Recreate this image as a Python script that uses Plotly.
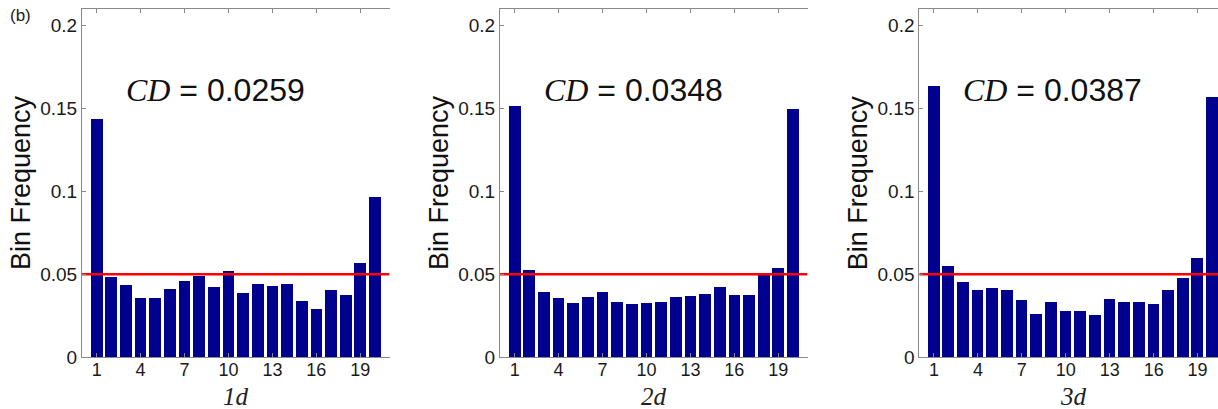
import plotly.graph_objects as go

bins = list(range(1, 21))
freq_1d = [0.1436, 0.0486, 0.0440, 0.0361, 0.0361, 0.0414, 0.0462, 0.0494, 0.0426, 0.0522,
           0.0392, 0.0444, 0.0432, 0.0444, 0.0343, 0.0293, 0.0408, 0.0380, 0.0570, 0.0968]
freq_2d = [0.1518, 0.0526, 0.0396, 0.0360, 0.0331, 0.0365, 0.0396, 0.0337, 0.0325, 0.0331,
           0.0337, 0.0367, 0.0373, 0.0386, 0.0428, 0.0380, 0.0380, 0.0502, 0.0542, 0.1496]
freq_3d = [0.1637, 0.0552, 0.0454, 0.0408, 0.0422, 0.0408, 0.0349, 0.0261, 0.0337, 0.0283,
           0.0283, 0.0259, 0.0355, 0.0337, 0.0333, 0.0325, 0.0408, 0.0482, 0.0600, 0.1570]
cd_values = ["0.0259", "0.0348", "0.0387"]
panel_names = ["1d", "2d", "3d"]
uniform_level = 0.05
x_ticks = [1, 4, 7, 10, 13, 16, 19]
y_ticks = [0, 0.05, 0.1, 0.15, 0.2]
y_ticklabels = ["0", "0.05", "0.1", "0.15", "0.2"]

W, H = 1218, 409
x_domains = [(82 / W, 389.6 / W), (500 / W, 807.6 / W), (919.3 / W, 1.0)]
x_ranges = [[0, 21], [0, 21], [0, 21 * (W - 919.3) / 307.6]]
y_domain = ((H - 357.3) / H, (H - 8.7) / H)

series = [freq_1d, freq_2d, freq_3d]
fig = go.Figure()
bar_color = "#00008F"
axis_color = "#8a8a8a"
tick_font = dict(family="Liberation Sans, Arial", size=19, color="#1a1a1a")

for i in range(3):
    xa = "x" if i == 0 else f"x{i+1}"
    ya = "y" if i == 0 else f"y{i+1}"
    fig.add_trace(go.Bar(x=bins, y=series[i], width=0.8, marker=dict(color=bar_color, line=dict(width=0)),
                         xaxis=xa, yaxis=ya, showlegend=False, hoverinfo="skip"))
    fig.add_trace(go.Scatter(x=[x_ranges[i][0], 21], y=[uniform_level, uniform_level], mode="lines",
                             line=dict(color="#FF0000", width=2.5), xaxis=xa, yaxis=ya,
                             showlegend=False, cliponaxis=True, hoverinfo="skip"))
    xkey = "xaxis" if i == 0 else f"xaxis{i+1}"
    ykey = "yaxis" if i == 0 else f"yaxis{i+1}"
    fig.layout[xkey] = dict(domain=list(x_domains[i]), range=x_ranges[i], anchor=ya, automargin=False,
                            tickmode="array", tickvals=x_ticks, ticks="inside", ticklen=4,
                            tickcolor=axis_color, showline=True, linecolor=axis_color, linewidth=1,
                            mirror="ticks", showgrid=False, zeroline=False,
                            tickfont=dict(family="Liberation Sans, Arial", size=18, color="#1a1a1a"),
                            ticklabelstandoff=-4)
    fig.layout[ykey] = dict(domain=list(y_domain), range=[0, 0.21], anchor=xa, automargin=False,
                            tickmode="array", tickvals=y_ticks, ticktext=y_ticklabels,
                            ticks="inside", ticklen=4, tickcolor=axis_color,
                            showline=True, linecolor=axis_color, linewidth=1, mirror=False,
                            showgrid=False, zeroline=False, tickfont=tick_font)
    # CD annotation
    fig.add_annotation(x=9.1, y=0.161, xref=xa, yref=ya, showarrow=False,
                       text=f"<span style='font-family:Liberation Serif, Times New Roman'><i>CD</i></span> = {cd_values[i]}",
                       font=dict(family="Liberation Sans, Arial", size=32, color="#111111"),
                       xanchor="center", yanchor="middle")
    # y-axis title
    left_px = x_domains[i][0] * W
    fig.add_annotation(x=(left_px - 61) / W, y=(H - 183) / H, xref="paper", yref="paper",
                       showarrow=False, text="Bin Frequency", textangle=-90,
                       font=dict(family="Liberation Sans, Arial", size=27, color="#111111"),
                       xanchor="center", yanchor="middle")
    # x-axis title
    fig.add_annotation(x=(left_px + 153.8) / W, y=(H - 382) / H, xref="paper", yref="paper",
                       showarrow=False, text=f"<i>{panel_names[i]}</i>",
                       font=dict(family="Liberation Serif, Times New Roman", size=25, color="#222222"),
                       xanchor="center", yanchor="top", borderpad=0)

fig.add_annotation(x=20 / W, y=(H - 15) / H, xref="paper", yref="paper", showarrow=False,
                   text="(b)", font=dict(family="Liberation Sans, Arial", size=17, color="#222222"),
                   xanchor="center", yanchor="middle")

fig.update_layout(width=W, height=H, margin=dict(l=0, r=0, t=0, b=0, autoexpand=False),
                  paper_bgcolor="white", plot_bgcolor="white", bargap=0, hovermode=False)

fig.write_html("out.html", config={"displayModeBar": False},
               post_script="document.body.style.margin='0';document.body.style.overflow='hidden';")
